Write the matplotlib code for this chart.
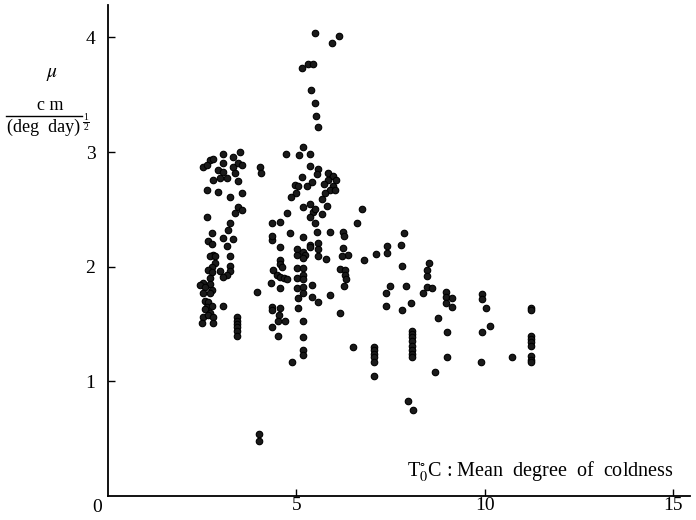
import numpy as np
import matplotlib
matplotlib.use("Agg")
import matplotlib.pyplot as plt
from matplotlib.lines import Line2D

plt.rcParams['font.family'] = ['Liberation Serif', 'DejaVu Serif']
plt.rcParams['mathtext.fontset'] = 'stix'

# mean degree of coldness T0 (deg C) and mu (cm / (deg day)^1/2)
# group near T0 = 2.5 - 3.5
t_a = [3.05, 3.50, 3.32, 2.71, 2.79, 2.52, 2.63, 2.92, 3.05, 3.05, 3.32, 3.45, 3.55, 3.37,
       2.79, 2.97, 3.16, 3.45, 2.63, 2.92, 3.24, 3.55, 3.45, 3.55, 3.37, 2.63, 3.24, 3.18,
       2.76, 3.05, 3.32, 2.65, 2.76, 3.16, 2.79, 2.71, 2.84, 3.24, 2.84, 2.76, 3.24, 2.65,
       2.97, 3.24, 3.16, 3.05, 2.76, 2.71, 2.52, 2.71, 2.44, 2.57, 2.76, 2.52, 2.71, 2.57,
       2.65, 2.63, 2.76, 3.05, 2.57, 2.71, 2.52, 2.65, 2.79, 2.49, 2.79,
       3.42, 3.42, 3.42, 3.42, 3.42, 3.42,
       4.03, 4.06, 3.95, 4.00, 4.00]
mu_a = [2.98, 3.00, 2.96, 2.93, 2.94, 2.87, 2.89, 2.84, 2.90, 2.83, 2.87, 2.90, 2.89, 2.82,
        2.76, 2.77, 2.77, 2.75, 2.67, 2.65, 2.61, 2.64, 2.52, 2.49, 2.47, 2.43, 2.38, 2.32,
        2.29, 2.25, 2.24, 2.22, 2.20, 2.18, 2.10, 2.09, 2.09, 2.09, 2.03, 2.00, 2.01, 1.97,
        1.96, 1.96, 1.93, 1.91, 1.95, 1.90, 1.86, 1.85, 1.84, 1.82, 1.80, 1.77, 1.77, 1.70,
        1.69, 1.65, 1.66, 1.66, 1.63, 1.60, 1.56, 1.58, 1.56, 1.51, 1.51,
        1.56, 1.53, 1.50, 1.47, 1.44, 1.40,
        2.87, 2.82, 1.78, 0.54, 0.48]

# group near T0 = 4.3 - 6.8
t_b = [5.49, 6.13, 5.94, 5.31, 5.44, 5.15, 5.38, 5.49, 5.52, 5.57, 5.17, 4.72, 5.07, 5.36,
       5.36, 5.57, 5.54, 5.15, 5.84, 5.97, 6.05, 5.84, 5.73, 5.28, 5.41, 4.96, 5.04, 5.97,
       5.89, 6.02, 5.76, 4.99, 4.86, 5.68, 5.17, 5.36, 5.44, 5.49, 5.36, 5.49, 5.81, 5.68,
       4.75, 4.35, 4.56, 4.83, 5.17, 5.54, 4.35, 4.35, 4.56, 5.01, 5.01, 5.17, 5.23, 5.36,
       5.57, 5.57, 5.57, 5.78, 5.17, 4.56, 4.56, 4.62, 4.38, 4.48, 4.56, 4.67, 4.75, 5.01,
       5.17, 5.17, 5.01, 5.17, 4.32, 5.41, 4.56, 5.01, 5.17, 5.04, 5.17, 5.41, 5.57, 5.89,
       4.35, 4.35, 4.56, 4.54, 4.51, 4.69, 5.04, 5.17, 4.35, 4.51, 5.17, 5.17, 5.17, 4.88,
       6.15, 6.15, 6.29, 6.29, 6.31, 6.26, 6.23, 6.26, 6.60, 6.74, 6.23, 6.37, 6.21, 6.79,
       7.11, 5.89, 6.50, 5.36]
mu_b = [4.04, 4.01, 3.95, 3.77, 3.77, 3.73, 3.54, 3.43, 3.31, 3.22, 3.04, 2.98, 2.97, 2.98,
        2.88, 2.85, 2.81, 2.78, 2.82, 2.79, 2.76, 2.76, 2.72, 2.70, 2.74, 2.71, 2.70, 2.70,
        2.67, 2.67, 2.64, 2.64, 2.61, 2.59, 2.52, 2.55, 2.48, 2.50, 2.43, 2.38, 2.53, 2.46,
        2.47, 2.38, 2.39, 2.29, 2.26, 2.30, 2.23, 2.27, 2.17, 2.15, 2.10, 2.13, 2.10, 2.19,
        2.21, 2.15, 2.09, 2.07, 2.08, 2.06, 2.02, 2.00, 1.97, 1.93, 1.91, 1.90, 1.89, 1.99,
        1.99, 1.93, 1.90, 1.89, 1.86, 1.84, 1.81, 1.81, 1.82, 1.73, 1.77, 1.74, 1.69, 1.75,
        1.65, 1.62, 1.64, 1.58, 1.53, 1.53, 1.64, 1.53, 1.47, 1.40, 1.39, 1.27, 1.23, 1.17,
        1.60, 1.98, 1.97, 1.93, 1.89, 1.83, 2.30, 2.27, 2.38, 2.50, 2.16, 2.10, 2.09, 2.06,
        2.11, 2.30, 1.30, 2.17]

# group near T0 = 7 - 11.2
t_c = [7.06, 7.06, 7.06, 7.06, 7.06, 7.06,
       7.85, 7.40, 7.77, 7.40, 7.80, 8.51, 8.46, 8.46, 7.48, 7.90, 7.37, 8.46, 8.59, 8.36,
       8.97, 8.97, 9.12, 8.97, 9.12, 9.92, 9.92, 10.03, 7.37, 8.04, 7.80, 8.75,
       8.06, 8.06, 8.06, 8.06, 8.06, 8.06, 8.06, 8.06,
       8.99, 10.13, 9.92, 8.99, 9.89, 10.72, 8.67, 7.96, 8.09,
       11.22, 11.22, 11.22, 11.22, 11.22, 11.22, 11.22, 11.22, 11.22]
mu_c = [1.30, 1.27, 1.24, 1.21, 1.17, 1.05,
        2.29, 2.18, 2.19, 2.12, 2.01, 2.03, 1.97, 1.92, 1.83, 1.83, 1.77, 1.82, 1.81, 1.77,
        1.78, 1.74, 1.73, 1.68, 1.65, 1.76, 1.72, 1.64, 1.66, 1.68, 1.62, 1.55,
        1.44, 1.41, 1.39, 1.35, 1.31, 1.27, 1.24, 1.21,
        1.43, 1.48, 1.43, 1.21, 1.17, 1.21, 1.08, 0.83, 0.75,
        1.64, 1.62, 1.40, 1.37, 1.34, 1.31, 1.22, 1.19, 1.17]

x_ticks = [5, 10, 15]
y_ticks = [1, 2, 3, 4]

W, H = 696, 520
fig = plt.figure(figsize=(W / 100, H / 100), dpi=100)
ax = fig.add_axes([0.155, 0.046, 0.836, 0.944])

t_all = t_a + t_b + t_c
mu_all = mu_a + mu_b + mu_c
ax.scatter(t_all, mu_all, s=22, facecolor='#1a1a1a', edgecolor='black',
           linewidths=0.8, zorder=3)

ax.set_xlim(0, 15.44)
ax.set_ylim(0, 4.28)
for side in ['top', 'right']:
    ax.spines[side].set_visible(False)
for side in ['left', 'bottom']:
    ax.spines[side].set_linewidth(1.3)

ax.set_xticks(x_ticks)
ax.set_yticks(y_ticks)
ax.tick_params(direction='in', length=5, width=1, labelsize=14)
ax.tick_params(axis='x', pad=1)
ax.tick_params(axis='y', pad=9)
fig.text(97 / W, 1 - 507 / H, '0', ha='center', va='center', fontsize=14)

# y axis label: mu, cm / (deg day)^(1/2)
fig.text(52 / W, 1 - 75 / H, r'$\mu$', fontsize=14, ha='center', va='center')
fig.text(50 / W, 1 - 106 / H, 'c m', fontsize=13, ha='center', va='center')
fig.add_artist(Line2D([6 / W, 82 / W], [1 - 116 / H, 1 - 116 / H],
                      color='black', lw=1, transform=fig.transFigure))
fig.text(44 / W, 1 - 127 / H, '(deg  day)', fontsize=13, ha='center', va='center')
fig.text(86 / W, 1 - 117 / H, '1', fontsize=7, ha='center', va='center')
fig.add_artist(Line2D([83 / W, 89 / W], [1 - 122 / H, 1 - 122 / H],
                      color='black', lw=0.7, transform=fig.transFigure))
fig.text(86 / W, 1 - 127 / H, '2', fontsize=7, ha='center', va='center')

# x axis label
fig.text(407 / W, 1 - 472 / H, r'T$_0^{\circ}$C : Mean  degree  of  coldness', fontsize=14.5,
         ha='left', va='center')

fig.savefig('out.png', dpi=100)
